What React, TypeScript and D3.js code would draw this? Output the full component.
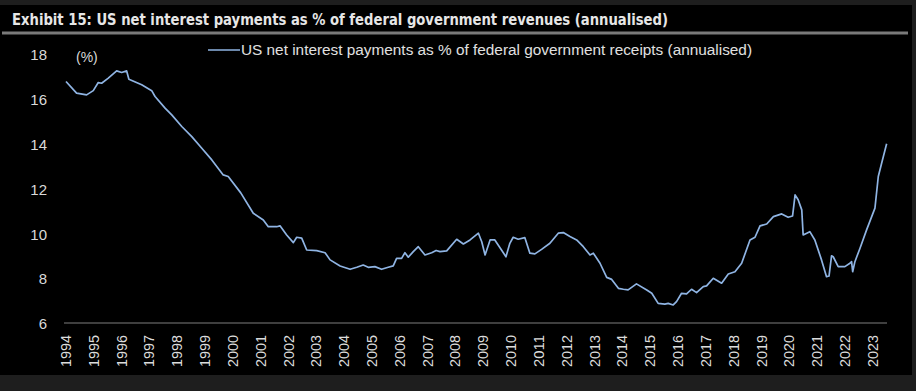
import React from "react";
import * as d3 from "d3";

const TITLE = "Exhibit 15: US net interest payments as % of federal government revenues (annualised)";
const LEGEND = "US net interest payments as % of federal government receipts (annualised)";
const UNIT = "(%)";

const yTicks = [6, 8, 10, 12, 14, 16, 18];
const yearTicks = d3.range(1994, 2024);

// decimal year, value (%)
const dates = [
  1994.0, 1994.38, 1994.74, 1994.98, 1995.16, 1995.28, 1995.52, 1995.82, 1996.0, 1996.18,
  1996.26, 1996.72, 1997.08, 1997.2, 1997.56, 1997.8, 1998.16, 1998.52, 1998.88, 1999.24,
  1999.65, 1999.83, 2000.28, 2000.73, 2001.09, 2001.27, 2001.57, 2001.69, 2001.93, 2002.17,
  2002.29, 2002.47, 2002.65, 2003.01, 2003.31, 2003.49, 2003.85, 2004.21, 2004.45, 2004.68,
  2004.86, 2005.1, 2005.34, 2005.58, 2005.76, 2005.88, 2006.06, 2006.18, 2006.3, 2006.48,
  2006.66, 2006.9, 2007.14, 2007.3, 2007.44, 2007.68, 2008.04, 2008.28, 2008.52, 2008.82,
  2008.94, 2009.06, 2009.24, 2009.41, 2009.65, 2009.81, 2009.95, 2010.07, 2010.25, 2010.49,
  2010.67, 2010.85, 2011.09, 2011.39, 2011.69, 2011.87, 2012.11, 2012.35, 2012.59, 2012.83,
  2012.95, 2013.19, 2013.43, 2013.61, 2013.85, 2014.03, 2014.2, 2014.5, 2014.87, 2015.05,
  2015.28, 2015.52, 2015.64, 2015.82, 2015.94, 2016.12, 2016.3, 2016.48, 2016.66, 2016.9,
  2017.02, 2017.26, 2017.56, 2017.8, 2018.04, 2018.28, 2018.58, 2018.76, 2018.94, 2019.18,
  2019.42, 2019.72, 2019.95, 2020.11, 2020.2, 2020.31, 2020.44, 2020.49, 2020.73, 2020.91,
  2021.15, 2021.33, 2021.42, 2021.51, 2021.57, 2021.75, 2021.99, 2022.17, 2022.23, 2022.27,
  2022.35, 2022.53, 2022.77, 2023.07, 2023.19, 2023.31, 2023.49,
];
const values = [
  16.82, 16.3, 16.22, 16.41, 16.77, 16.74, 16.97, 17.29, 17.22, 17.29,
  16.92, 16.67, 16.41, 16.15, 15.63, 15.33, 14.81, 14.36, 13.84, 13.32,
  12.65, 12.58, 11.85, 10.94, 10.64, 10.34, 10.34, 10.38, 9.97, 9.63,
  9.87, 9.83, 9.3, 9.27, 9.18, 8.86, 8.59, 8.44, 8.53, 8.63,
  8.53, 8.56, 8.44, 8.53, 8.59, 8.93, 8.93, 9.18, 8.98, 9.23,
  9.45, 9.08, 9.18, 9.28, 9.23, 9.26, 9.78, 9.57, 9.75, 10.05,
  9.67, 9.08, 9.75, 9.75, 9.3, 9.0, 9.6, 9.87, 9.78, 9.85,
  9.16, 9.13, 9.33, 9.6, 10.05, 10.08, 9.9, 9.75, 9.45, 9.08,
  9.16, 8.71, 8.08, 7.99, 7.59, 7.55, 7.52, 7.79, 7.52, 7.37,
  6.92, 6.89, 6.92, 6.85, 7.0, 7.37, 7.34, 7.55, 7.4, 7.67,
  7.7, 8.04, 7.82, 8.23, 8.33, 8.71, 9.75, 9.87, 10.38, 10.46,
  10.79, 10.91, 10.76, 10.82, 11.76, 11.54, 11.09, 9.97, 10.12, 9.75,
  8.86, 8.11, 8.14, 9.04, 9.0, 8.56, 8.56, 8.71, 8.78, 8.33,
  8.78, 9.37, 10.2, 11.17, 12.58, 13.17, 14.04,
];

const W = 916;
const H = 391;

export default function App() {
  const x = d3.scaleLinear().domain([1994, 2023]).range([66, 873]);
  const y = d3.scaleLinear().domain([6, 18]).range([324, 55]);
  const pts: [number, number][] = dates.map((d, i) => [d, values[i]]);
  const line = d3
    .line<[number, number]>()
    .x((d) => x(d[0]))
    .y((d) => y(d[1]))
    .curve(d3.curveLinear);

  const labelFont = "'Liberation Sans', Arial, sans-serif";
  const titleFont = "'Liberation Sans Narrow', 'DejaVu Sans Condensed', 'Liberation Sans', sans-serif";

  return (
    <svg
      width={W}
      height={H}
      style={{ position: "absolute", left: 0, top: 0, display: "block" }}
    >
      <rect x={0} y={0} width={W} height={H} fill="#1e1e1e" />
      <rect x={0} y={5} width={912} height={370} fill="#000000" />
      <text
        x={12}
        y={25}
        fill="#e6e6e6"
        fontFamily={titleFont}
        fontWeight="bold"
        fontSize={16.5}
        textLength={656}
        lengthAdjust="spacingAndGlyphs"
      >
        {TITLE}
      </text>
      <line x1={2} x2={908} y1={33} y2={33} stroke="#7a7a7a" strokeWidth={3} />

      {/* legend */}
      <line x1={208} x2={240} y1={50} y2={50} stroke="#8fb4e3" strokeWidth={1.5} />
      <text
        x={241}
        y={55}
        fill="#e0e0e0"
        fontFamily={labelFont}
        fontSize={14}
        textLength={511}
        lengthAdjust="spacingAndGlyphs"
      >
        {LEGEND}
      </text>

      <text x={76} y={62} fill="#d9d9d9" fontFamily={labelFont} fontSize={14}>
        {UNIT}
      </text>

      {/* y axis labels */}
      {yTicks.map((t) => (
        <text
          key={t}
          x={47}
          y={y(t)}
          dy="0.35em"
          textAnchor="end"
          fill="#d9d9d9"
          fontFamily={labelFont}
          fontSize={15}
        >
          {t}
        </text>
      ))}

      {/* x axis */}
      <line x1={64} x2={887} y1={323} y2={323} stroke="#3f3f3f" strokeWidth={2} />
      {yearTicks.map((yr) => (
        <text
          key={yr}
          transform={`translate(${x(yr)},335) rotate(-90)`}
          dy="0.35em"
          textAnchor="end"
          fill="#dcdcdc"
          fontFamily={labelFont}
          fontSize={14}
          textLength={32}
          lengthAdjust="spacingAndGlyphs"
        >
          {yr}
        </text>
      ))}

      <path d={line(pts) || ""} fill="none" stroke="#8fb4e3" strokeWidth={1.7} strokeLinejoin="round" />
    </svg>
  );
}
